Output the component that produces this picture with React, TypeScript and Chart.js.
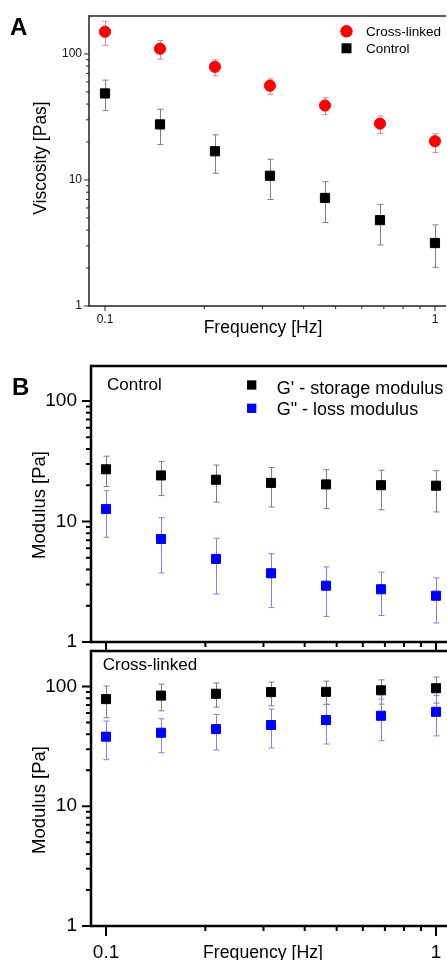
import React, { useEffect, useRef } from 'react';
import { Chart, registerables } from 'chart.js';
Chart.register(...registerables);

const FONT = "'Liberation Sans', Arial, Helvetica, sans-serif";

// ---- data ----
const freq = [0.1, 0.1468, 0.2154, 0.3162, 0.4642, 0.6813, 1.0];
const xTickLabels = [0.1, 1];
const yTickLabels = [1, 10, 100];

const viscCross = [150, 110, 79, 56, 39, 28, 20.3];
const viscCrossHi = [182, 128, 90, 63.5, 45, 32.2, 23.3];
const viscCrossLo = [117, 91, 67, 47.7, 33, 23.4, 16.5];
const viscCtrl = [48.6, 27.6, 16.9, 10.8, 7.2, 4.8, 3.16];
const viscCtrlHi = [62, 36.4, 22.8, 14.6, 9.7, 6.4, 4.4];
const viscCtrlLo = [35.5, 19.1, 11.3, 7.0, 4.6, 3.05, 2.03];

const ctrlStorage = [27.1, 24.1, 22.2, 20.9, 20.3, 20.0, 19.8];
const ctrlStorageHi = [34.8, 31.4, 29.4, 28, 26.9, 26.6, 26.4];
const ctrlStorageLo = [19.5, 16.4, 14.5, 13.2, 12.8, 12.5, 12.0];
const ctrlLoss = [12.7, 7.16, 4.89, 3.72, 2.93, 2.74, 2.42];
const ctrlLossHi = [18.0, 10.75, 7.25, 5.4, 4.2, 3.8, 3.4];
const ctrlLossLo = [7.4, 3.74, 2.5, 1.93, 1.63, 1.66, 1.44];

const xlStorage = [78.5, 84, 87, 89.8, 90.3, 93, 96.8];
const xlStorageHi = [101, 104.6, 107, 109, 111, 113.7, 120];
const xlStorageLo = [54.8, 62.7, 67.3, 69, 70.8, 71.3, 72.7];
const xlLoss = [38.1, 41.1, 44.1, 47.7, 52.5, 57, 61.5];
const xlLossHi = [51.5, 53.8, 58.4, 64.8, 71.3, 78.5, 84];
const xlLossLo = [24.5, 28.0, 29.5, 30.6, 33.1, 35.3, 38.7];

type Series = {
  label: string; values: number[]; hi: number[]; lo: number[];
  color: string; errColor: string; style: string; radius: number;
};
type Txt = { text: string; x: number; y: number; size: number; bold?: boolean; align?: CanvasTextAlign; baseline?: CanvasTextBaseline; rotate?: boolean; color?: string };
type Leg = { style: 'circle' | 'rect'; color: string; size: number; x: number; y: number };
type Spec = {
  top: number; w: number; h: number; viewW: number;
  area: { left: number; top: number; right: number; bottom: number };
  xMin: number; xMax: number; yMin: number; yMax: number;
  series: Series[];
  showX: boolean; xSize: number; ySize: number; xPad: number; yPad: number;
  axisColor: string; axisWidth: number;
  yMajor: number; yMinor: number; xMajor: number; xMinor: number;
  capW: number; tickColor: string; labelColor: string;
  texts: Txt[]; legend: Leg[];
};

function logTicks(min: number, max: number) {
  const out: { v: number; major: boolean }[] = [];
  for (let e = -3; e <= 3; e++) {
    for (let m = 1; m <= 9; m++) {
      const v = m * Math.pow(10, e);
      if (v >= min * 0.9999 && v <= max * 0.9999) out.push({ v, major: m === 1 });
    }
  }
  return out;
}

function decor(spec: Spec) {
  return {
    id: 'decor',
    beforeDatasetsDraw(chart: any) {
      const { ctx } = chart;
      const x = chart.scales.x, y = chart.scales.y;
      ctx.save();
      ctx.lineWidth = 1;
      spec.series.forEach((s) => {
        ctx.strokeStyle = s.errColor;
        freq.forEach((f, i) => {
          const px = Math.round(x.getPixelForValue(f)) + 0.5;
          const yh = y.getPixelForValue(s.hi[i]);
          const yl = y.getPixelForValue(s.lo[i]);
          ctx.beginPath();
          ctx.moveTo(px, yh); ctx.lineTo(px, yl);
          ctx.moveTo(px - spec.capW, yh); ctx.lineTo(px + spec.capW, yh);
          ctx.moveTo(px - spec.capW, yl); ctx.lineTo(px + spec.capW, yl);
          ctx.stroke();
        });
      });
      ctx.restore();
      ctx.beginPath();
    },
    afterDraw(chart: any) {
      const { ctx, chartArea: a } = chart;
      const x = chart.scales.x, y = chart.scales.y;
      const far = chart.width + 10;
      ctx.save();
      ctx.beginPath();
      // axes: left, top, bottom (right side lies beyond the page edge)
      ctx.strokeStyle = spec.axisColor;
      ctx.lineWidth = spec.axisWidth;
      ctx.beginPath();
      ctx.moveTo(a.left, a.top - spec.axisWidth / 2);
      ctx.lineTo(a.left, a.bottom + spec.axisWidth / 2);
      ctx.stroke();
      ctx.beginPath();
      ctx.moveTo(a.left, a.top);
      ctx.lineTo(far, a.top);
      ctx.stroke();
      ctx.beginPath();
      ctx.moveTo(a.left, a.bottom);
      ctx.lineTo(far, a.bottom);
      ctx.stroke();
      // ticks
      ctx.strokeStyle = spec.tickColor;
      ctx.lineWidth = Math.max(1, spec.axisWidth - 0.5);
      ctx.beginPath();
      logTicks(spec.yMin, spec.yMax).forEach((t) => {
        const py = y.getPixelForValue(t.v);
        const len = t.major ? spec.yMajor : spec.yMinor;
        ctx.moveTo(a.left, py); ctx.lineTo(a.left - len, py);
      });
      logTicks(spec.xMin * 1.02, spec.xMax).forEach((t) => {
        const px = x.getPixelForValue(t.v);
        const len = t.major ? spec.xMajor : spec.xMinor;
        ctx.moveTo(px, a.bottom); ctx.lineTo(px, a.bottom + len);
      });
      ctx.stroke();
      // legend markers
      spec.legend.forEach((l) => {
        const ly = l.y - spec.top;
        ctx.fillStyle = l.color;
        if (l.style === 'circle') {
          ctx.beginPath(); ctx.arc(l.x, ly, l.size / 2, 0, Math.PI * 2); ctx.fill();
        } else {
          ctx.fillRect(l.x - l.size / 2, ly - l.size / 2, l.size, l.size);
        }
      });
      // texts
      spec.texts.forEach((t) => {
        ctx.save();
        ctx.fillStyle = t.color || '#000';
        ctx.font = `${t.bold ? 'bold ' : ''}${t.size}px ${FONT}`;
        ctx.textAlign = t.align || 'left';
        ctx.textBaseline = t.baseline || 'alphabetic';
        ctx.translate(t.x, t.y - spec.top);
        if (t.rotate) ctx.rotate(-Math.PI / 2);
        ctx.fillText(t.text, 0, 0);
        ctx.restore();
      });
      ctx.beginPath();
      ctx.restore();
    },
  };
}

function buildConfig(spec: Spec): any {
  return {
    type: 'scatter',
    data: {
      datasets: spec.series.map((s) => ({
        label: s.label,
        data: freq.map((f, i) => ({ x: f, y: s.values[i] })),
        backgroundColor: s.color,
        borderColor: s.color,
        borderWidth: 1,
        pointStyle: s.style,
        pointRadius: s.radius,
        pointHoverRadius: s.radius,
        showLine: false,
        clip: false,
      })),
    },
    options: {
      responsive: false,
      animation: false,
      devicePixelRatio: 1,
      events: [],
      layout: { padding: { left: 0, top: spec.area.top, right: spec.w - spec.area.right, bottom: 0 } },
      plugins: { legend: { display: false }, tooltip: { enabled: false }, title: { display: false } },
      scales: {
        x: {
          type: 'logarithmic', position: 'bottom', min: spec.xMin, max: spec.xMax,
          grid: { display: false, drawTicks: false, drawOnChartArea: false }, border: { display: false },
          ticks: {
            display: spec.showX, autoSkip: false, maxRotation: 0, padding: spec.xPad, color: spec.labelColor,
            font: { family: FONT, size: spec.xSize }, callback: (v: number) => String(v),
          },
          afterBuildTicks: (sc: any) => { sc.ticks = xTickLabels.map((v) => ({ value: v })); },
          afterFit: (sc: any) => { sc.height = spec.h - spec.area.bottom; },
        },
        y: {
          type: 'logarithmic', position: 'left', min: spec.yMin, max: spec.yMax,
          grid: { display: false, drawTicks: false, drawOnChartArea: false }, border: { display: false },
          ticks: {
            autoSkip: false, padding: spec.yPad, color: spec.labelColor,
            font: { family: FONT, size: spec.ySize }, callback: (v: number) => String(v),
          },
          afterBuildTicks: (sc: any) => { sc.ticks = yTickLabels.map((v) => ({ value: v })); },
          afterFit: (sc: any) => { sc.width = spec.area.left; },
        },
      },
    },
    plugins: [decor(spec)],
  };
}

const specA: Spec = {
  top: 0, w: 490, h: 345, viewW: 446,
  area: { left: 89, top: 16, right: 451, bottom: 306 },
  xMin: 0.08944, xMax: 1.1184, yMin: 1, yMax: 200,
  series: [
    { label: 'Cross-linked', values: viscCross, hi: viscCrossHi, lo: viscCrossLo, color: '#ff0000', errColor: '#ff8080', style: 'circle', radius: 5.6 },
    { label: 'Control', values: viscCtrl, hi: viscCtrlHi, lo: viscCtrlLo, color: '#000000', errColor: '#808080', style: 'rect', radius: 6.5 },
  ],
  showX: true, xSize: 12, ySize: 12, xPad: 6, yPad: 7,
  axisColor: '#222', axisWidth: 1.5, tickColor: '#222', labelColor: '#111',
  yMajor: 5, yMinor: 3, xMajor: 5, xMinor: 3, capW: 3,
  texts: [
    { text: 'A', x: 10, y: 35, size: 24, bold: true },
    { text: 'Viscosity [Pas]', x: 41, y: 158, size: 17.5, rotate: true, align: 'center', baseline: 'middle' },
    { text: 'Frequency [Hz]', x: 263, y: 333, size: 17.5, align: 'center' },
    { text: 'Cross-linked', x: 366, y: 36, size: 13.5 },
    { text: 'Control', x: 366, y: 53.3, size: 13.5 },
  ],
  legend: [
    { style: 'circle', color: '#ff0000', size: 12.4, x: 346.5, y: 31.3 },
    { style: 'rect', color: '#000000', size: 10, x: 346.5, y: 48.3 },
  ],
};

const specB1: Spec = {
  top: 336, w: 490, h: 336, viewW: 447,
  area: { left: 91, top: 30, right: 452, bottom: 306 },
  xMin: 0.09005, xMax: 1.118, yMin: 1, yMax: 195,
  series: [
    { label: "G' - storage modulus", values: ctrlStorage, hi: ctrlStorageHi, lo: ctrlStorageLo, color: '#000000', errColor: '#7f7f7f', style: 'rect', radius: 6.4 },
    { label: 'G" - loss modulus', values: ctrlLoss, hi: ctrlLossHi, lo: ctrlLossLo, color: '#0000ff', errColor: '#8080ff', style: 'rect', radius: 6.4 },
  ],
  showX: false, xSize: 19, ySize: 19, xPad: 15, yPad: 14,
  axisColor: '#000', axisWidth: 2.5, tickColor: '#000', labelColor: '#000',
  yMajor: 9, yMinor: 5, xMajor: 9, xMinor: 5, capW: 3,
  texts: [
    { text: 'B', x: 12, y: 395, size: 24, bold: true },
    { text: 'Modulus [Pa]', x: 40, y: 505, size: 18.5, rotate: true, align: 'center', baseline: 'middle' },
    { text: 'Control', x: 107, y: 390, size: 17 },
    { text: "G' - storage modulus", x: 276.7, y: 393.5, size: 18 },
    { text: 'G" - loss modulus', x: 276.7, y: 415, size: 18 },
  ],
  legend: [
    { style: 'rect', color: '#000000', size: 9.3, x: 251.7, y: 385 },
    { style: 'rect', color: '#0000ff', size: 9.3, x: 251.7, y: 408.3 },
  ],
};

const specB2: Spec = {
  top: 621, w: 490, h: 339, viewW: 447,
  area: { left: 91, top: 30, right: 452, bottom: 305 },
  xMin: 0.09005, xMax: 1.118, yMin: 1, yMax: 198,
  series: [
    { label: "G' - storage modulus", values: xlStorage, hi: xlStorageHi, lo: xlStorageLo, color: '#000000', errColor: '#7f7f7f', style: 'rect', radius: 6.4 },
    { label: 'G" - loss modulus', values: xlLoss, hi: xlLossHi, lo: xlLossLo, color: '#0000ff', errColor: '#8080ff', style: 'rect', radius: 6.4 },
  ],
  showX: true, xSize: 19, ySize: 19, xPad: 15, yPad: 14,
  axisColor: '#000', axisWidth: 2.5, tickColor: '#000', labelColor: '#000',
  yMajor: 9, yMinor: 5, xMajor: 10, xMinor: 5, capW: 3,
  texts: [
    { text: 'Modulus [Pa]', x: 40, y: 800, size: 18.5, rotate: true, align: 'center', baseline: 'middle' },
    { text: 'Cross-linked', x: 102.7, y: 670, size: 17 },
    { text: 'Frequency [Hz]', x: 263, y: 958.4, size: 17.7, align: 'center' },
  ],
  legend: [],
};

function Panel({ spec }: { spec: Spec }) {
  const ref = useRef<HTMLCanvasElement | null>(null);
  useEffect(() => {
    if (!ref.current) return;
    const chart = new Chart(ref.current, buildConfig(spec));
    return () => chart.destroy();
  }, [spec]);
  return (
    <div style={{ position: 'absolute', left: 0, top: spec.top, width: spec.viewW, height: spec.h, overflow: 'hidden' }}>
      <canvas
        ref={ref}
        width={spec.w}
        height={spec.h}
        style={{ position: 'absolute', left: 0, top: 0, width: spec.w, height: spec.h, display: 'block' }}
      />
    </div>
  );
}

export default function App() {
  return (
    <div style={{ position: 'fixed', left: 0, top: 0, width: 447, height: 960, overflow: 'hidden', background: '#fff' }}>
      <Panel spec={specA} />
      <Panel spec={specB1} />
      <Panel spec={specB2} />
    </div>
  );
}
